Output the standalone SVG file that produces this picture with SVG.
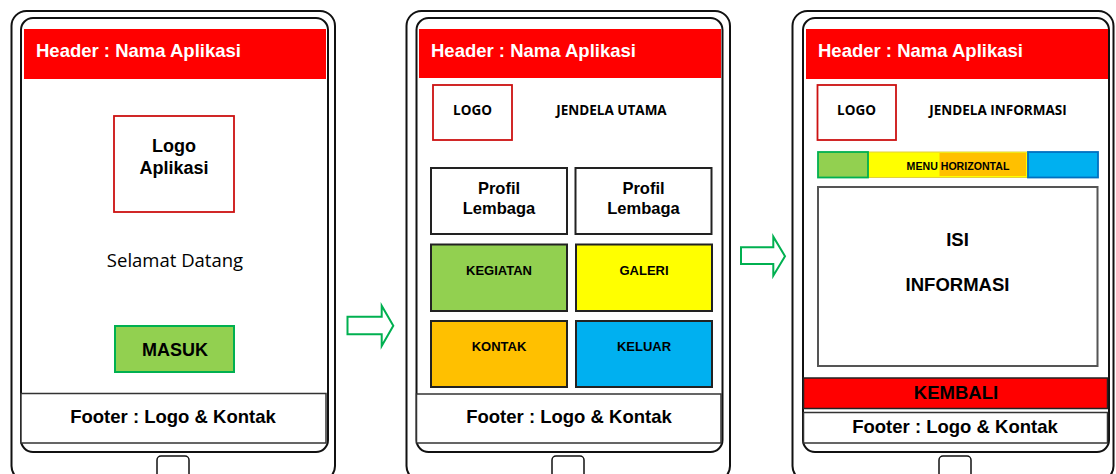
<svg xmlns="http://www.w3.org/2000/svg" width="1116" height="474" viewBox="0 0 1116 474">
  <style>
    .frame { fill: #ffffff; stroke: #111111; stroke-width: 2; }
    .screen { fill: #ffffff; stroke: #111111; stroke-width: 2; }
    .header { fill: #ff0000; }
    .htext { font-family: "Liberation Sans", Arial, sans-serif; font-weight: bold; font-size: 18.5px; fill: #ffffff; }
    .foot { fill: #ffffff; stroke: #333333; stroke-width: 1.5; }
    .btext { font-family: "Liberation Sans", Arial, sans-serif; font-weight: bold; fill: #000000; text-anchor: middle; }
    .otext { font-family: "Open Sans", "Noto Sans", sans-serif; fill: #000000; text-anchor: middle; }
    .logo { fill: #ffffff; stroke: #cc1111; stroke-width: 1.8; }
    .tile { stroke: #222222; stroke-width: 2; }
    .home { fill: #ffffff; stroke: #111111; stroke-width: 1.5; }
    .arrow { fill: #ffffff; stroke: #00b050; stroke-width: 2; stroke-linejoin: miter; }
  </style>

  <!-- Screen 1: welcome -->
  <g id="screen-welcome">
    <rect class="frame" x="11.5" y="11" width="323.5" height="470" rx="15"/>
    <rect class="screen" x="21" y="18" width="307" height="434" rx="12"/>
    <rect class="home" x="157" y="456" width="32" height="30" rx="4"/>
    <rect class="header" x="24" y="29" width="302" height="50"/>
    <text class="htext" x="36" y="56.5">Header : Nama Aplikasi</text>
    <rect class="logo" x="114" y="116" width="120" height="96"/>
    <text class="btext" x="174" y="152" font-size="18">Logo</text>
    <text class="btext" x="174" y="174" font-size="18">Aplikasi</text>
    <text class="otext" x="175" y="267" font-size="18.5">Selamat Datang</text>
    <rect x="115" y="326" width="119" height="46" fill="#92d050" stroke="#00b050" stroke-width="2"/>
    <text class="btext" x="175" y="355.5" font-size="18">MASUK</text>
    <rect class="foot" x="21" y="393.5" width="305" height="49.5"/>
    <text class="btext" x="173" y="422.5" font-size="18.5">Footer : Logo &amp; Kontak</text>
  </g>

  <!-- Screen 2: main window -->
  <g id="screen-main">
    <rect class="frame" x="406.5" y="11" width="323.5" height="470" rx="15"/>
    <rect class="screen" x="416.5" y="18" width="306" height="434" rx="12"/>
    <rect class="home" x="552" y="456" width="32" height="30" rx="4"/>
    <rect class="header" x="419" y="29" width="302" height="49"/>
    <text class="htext" x="431" y="56.5">Header : Nama Aplikasi</text>
    <rect class="logo" x="433" y="85" width="79" height="55"/>
    <text class="otext" x="472.5" y="115" font-size="13.5" font-weight="bold">LOGO</text>
    <text class="otext" x="611.5" y="115" font-size="13.5" font-weight="bold">JENDELA UTAMA</text>
    <rect class="tile" x="431" y="168" width="136" height="66" fill="#ffffff"/>
    <text class="btext" x="499" y="194" font-size="16.5">Profil</text>
    <text class="btext" x="499" y="214" font-size="16.5">Lembaga</text>
    <rect class="tile" x="575.5" y="168" width="136" height="66" fill="#ffffff"/>
    <text class="btext" x="643.5" y="194" font-size="16.5">Profil</text>
    <text class="btext" x="643.5" y="214" font-size="16.5">Lembaga</text>
    <rect class="tile" x="431" y="244.5" width="136" height="66.5" fill="#92d050"/>
    <text class="btext" x="499" y="275" font-size="13">KEGIATAN</text>
    <rect class="tile" x="576" y="244.5" width="136" height="66.5" fill="#ffff00"/>
    <text class="btext" x="644" y="275" font-size="13">GALERI</text>
    <rect class="tile" x="431" y="321" width="136" height="66" fill="#ffc000"/>
    <text class="btext" x="499" y="351" font-size="13">KONTAK</text>
    <rect class="tile" x="576" y="321" width="136" height="66" fill="#00b0f0"/>
    <text class="btext" x="644" y="351" font-size="13">KELUAR</text>
    <rect class="foot" x="416.5" y="394" width="304.5" height="49"/>
    <text class="btext" x="569" y="422.5" font-size="18.5">Footer : Logo &amp; Kontak</text>
  </g>

  <!-- Screen 3: information window -->
  <g id="screen-info">
    <rect class="frame" x="792.5" y="11" width="321" height="470" rx="15"/>
    <rect class="screen" x="803" y="18" width="306" height="434" rx="12"/>
    <rect class="home" x="939" y="456" width="32" height="30" rx="4"/>
    <rect class="header" x="806" y="29" width="302" height="50"/>
    <text class="htext" x="818" y="56.5">Header : Nama Aplikasi</text>
    <rect class="logo" x="817.5" y="85" width="78.5" height="55"/>
    <text class="otext" x="856.5" y="115" font-size="13.5" font-weight="bold">LOGO</text>
    <text class="otext" x="998" y="115" font-size="13.5" font-weight="bold">JENDELA INFORMASI</text>
    <!-- horizontal menu bar -->
    <rect x="868" y="152" width="159.5" height="25.5" fill="#ffff00" stroke="#e0d040" stroke-width="1"/>
    <rect x="939.5" y="153" width="86.5" height="23" fill="#ffc000"/>
    <rect x="818" y="152" width="50" height="25.5" fill="#92d050" stroke="#00b050" stroke-width="1.8"/>
    <rect x="1028" y="152" width="70" height="25.5" fill="#00b0f0" stroke="#0070c0" stroke-width="1.8"/>
    <text class="btext" x="958" y="170" font-size="10.6">MENU HORIZONTAL</text>
    <rect x="818" y="187" width="279.5" height="179" fill="#ffffff" stroke="#555555" stroke-width="2"/>
    <text class="btext" x="957.5" y="246" font-size="18.5">ISI</text>
    <text class="btext" x="957.5" y="291" font-size="18.5">INFORMASI</text>
    <rect x="803.5" y="378" width="304" height="30.5" fill="#ff0000" stroke="#222222" stroke-width="1.5"/>
    <text class="btext" x="956" y="399" font-size="18.5">KEMBALI</text>
    <rect class="foot" x="803.5" y="412.5" width="304" height="30.5"/>
    <text class="btext" x="955" y="432.5" font-size="18.5">Footer : Logo &amp; Kontak</text>
  </g>

  <!-- Flow arrows between screens -->
  <g id="connectors">
    <path class="arrow" d="M347.5,316.7 H381.7 V305.7 L393.3,325.8 L381.7,346 V334.3 H347.5 Z"/>
    <path class="arrow" d="M741,247.3 H773.3 V236.7 L785,256.2 L773.3,275.7 V264 H741 Z"/>
  </g>
</svg>
